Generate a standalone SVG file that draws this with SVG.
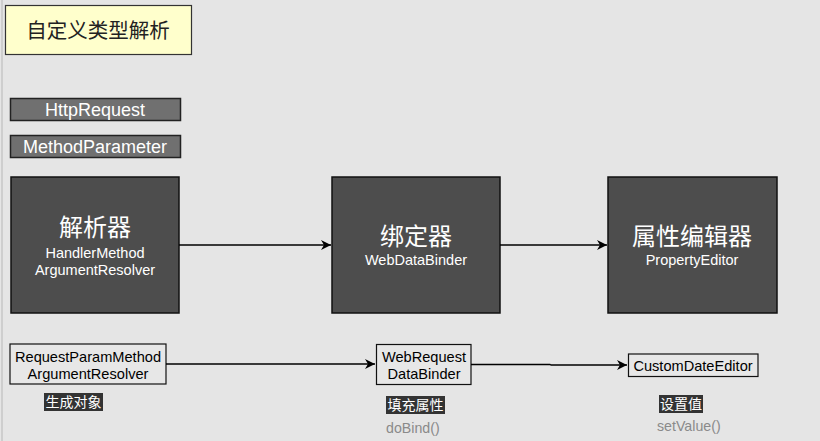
<svg xmlns="http://www.w3.org/2000/svg" width="820" height="441" viewBox="0 0 820 441">
<defs>
<marker id="ah" viewBox="0 0 10 10" refX="10" refY="5" markerWidth="10" markerHeight="10" markerUnits="userSpaceOnUse" orient="auto">
<path d="M0,0 L10,5 L0,10 L3,5 Z" fill="#000"/>
</marker>
<style>
text{font-family:"Liberation Sans","Noto Sans CJK SC",sans-serif;text-anchor:middle}
.cjk{font-family:"Noto Sans CJK SC","Liberation Sans",sans-serif}
.big{fill:#4d4d4d;stroke:#111;stroke-width:1.5}
.tag{fill:#707070;stroke:#222;stroke-width:1.5}
.small{fill:#e7e7e7;stroke:#111;stroke-width:1.2}
.wt{fill:#fff}
.bt{fill:#000}
.conn{fill:none;stroke:#000;stroke-width:1.3;marker-end:url(#ah)}
.gray{fill:#8a8a8a;text-anchor:start}
</style>
</defs>
<rect width="820" height="441" fill="#e5e5e5"/>
<line x1="2" y1="0" x2="2" y2="441" stroke="#c6c6c6" stroke-width="1.5"/>

<g id="title">
<rect x="5.5" y="5.5" width="186" height="49" fill="#ffffcc" stroke="#333" stroke-width="1.2"/>
<text class="cjk" x="98" y="37.5" font-size="20.5" fill="#222">自定义类型解析</text>
</g>
<g id="httprequest">
<rect class="tag" x="10.5" y="98.5" width="170" height="22"/>
<text class="wt" x="95" y="116" font-size="18">HttpRequest</text>
</g>
<g id="methodparameter">
<rect class="tag" x="10.5" y="135.5" width="170" height="22"/>
<text class="wt" x="95" y="153" font-size="18">MethodParameter</text>
</g>

<g id="resolver">
<rect class="big" x="11" y="177" width="168" height="136"/>
<text class="wt cjk" x="95" y="236" font-size="24">解析器</text>
<text class="wt" x="95" y="258" font-size="14.5">HandlerMethod</text>
<text class="wt" x="95" y="275" font-size="14.5">ArgumentResolver</text>
</g>
<g id="binder">
<rect class="big" x="332" y="177" width="168" height="136"/>
<text class="wt cjk" x="416" y="245" font-size="24">绑定器</text>
<text class="wt" x="416" y="265" font-size="14.5">WebDataBinder</text>
</g>
<g id="editor">
<rect class="big" x="608" y="177" width="169" height="136"/>
<text class="wt cjk" x="692" y="245" font-size="24">属性编辑器</text>
<text class="wt" x="692" y="265" font-size="14.5">PropertyEditor</text>
</g>

<g id="rpmar">
<rect class="small" x="10" y="344" width="156" height="40"/>
<text class="bt" x="88" y="362" font-size="14.6">RequestParamMethod</text>
<text class="bt" x="88" y="378.5" font-size="14.6">ArgumentResolver</text>
</g>
<g id="wrdb">
<rect class="small" x="376.5" y="344.5" width="94.5" height="40"/>
<text class="bt" x="424" y="362" font-size="14.6">WebRequest</text>
<text class="bt" x="424" y="378.5" font-size="14.6">DataBinder</text>
</g>
<g id="cde">
<rect class="small" x="628.5" y="354" width="129.5" height="22.5"/>
<text class="bt" x="693" y="370.5" font-size="14.6">CustomDateEditor</text>
</g>

<g id="label-create">
<rect x="44" y="393" width="59" height="18" fill="#333"/>
<text class="wt cjk" x="73.5" y="407" font-size="14">生成对象</text>
</g>
<g id="label-fill">
<rect x="386" y="396" width="59" height="18" fill="#333"/>
<text class="wt cjk" x="415.5" y="410" font-size="14">填充属性</text>
<text class="gray" x="386" y="433" font-size="14.2">doBind()</text>
</g>
<g id="label-set">
<rect x="659" y="395" width="44" height="18" fill="#333"/>
<text class="wt cjk" x="681" y="409" font-size="14">设置值</text>
<text class="gray" x="657" y="431" font-size="14.2">setValue()</text>
</g>

<g id="connectors">
<path class="conn" d="M179,245 H331"/>
<path class="conn" d="M500,245 H607"/>
<path class="conn" d="M166,364 H375"/>
<path class="conn" d="M471,364.5 H550 L551,365 H627"/>
</g>
</svg>
